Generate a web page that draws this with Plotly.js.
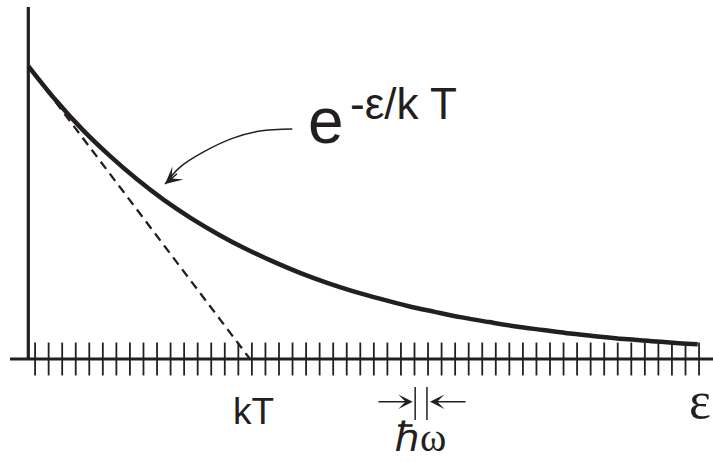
<!DOCTYPE html>
<html>
<head>
<meta charset="utf-8">
<script src="https://cdn.plot.ly/plotly-3.0.1.min.js"></script>
<style>html,body{margin:0;padding:0;background:#fff;}#chart{width:713px;height:462px;}</style>
</head>
<body>
<div id="chart"></div>
<script>
// Energy in units of the level spacing (hbar*omega); occupation relative to the value at zero.
const curveX = [0, 2, 4, 6, 8, 10, 12, 14, 16, 18, 20, 22, 24, 26, 28, 30, 32, 34, 36, 38, 40, 42, 44, 46, 48, 49.4];
const curveY = [1.00, 0.885, 0.783, 0.694, 0.614, 0.543, 0.481, 0.426, 0.377, 0.334, 0.295, 0.261, 0.231, 0.205, 0.181, 0.161, 0.142, 0.126, 0.111, 0.099, 0.087, 0.077, 0.068, 0.061, 0.054, 0.050];
const tangentX = [0, 16.36];
const tangentY = [1.0, 0.0];
const levelX = [0.5, 1.5, 2.5, 3.5, 4.5, 5.5, 6.5, 7.5, 8.5, 9.5, 10.5, 11.5, 12.5, 13.5, 14.5, 15.5, 16.5, 17.5, 18.5, 19.5, 20.5, 21.5, 22.5, 23.5, 24.5, 25.5, 26.5, 27.5, 28.5, 29.5, 30.5, 31.5, 32.5, 33.5, 34.5, 35.5, 36.5, 37.5, 38.5, 39.5, 40.5, 41.5, 42.5, 43.5, 44.5, 45.5, 46.5, 47.5, 48.5, 49.5];
const levelY = levelX.map(() => 0);
const pointerX = [19.48, 17.10, 15.11, 12.90, 11.20, 10.09];
const pointerY = [0.785, 0.778, 0.754, 0.706, 0.655, 0.597];
const labelExp = "e";
const labelSup = "-ε/k T";
const labelKT = "kT";
const labelEps = "ε";
const labelHw = "ℏω";

const ink = "#231f20";
const sans = "'Liberation Sans', Arial, Helvetica, sans-serif";
const serif = "'Liberation Serif', 'Times New Roman', serif";
const W = 713, H = 462;
const px = p => p / W;
const py = p => 1 - p / H;

const traces = [
  { x: [-1.35, 50.6], y: [0, 0], mode: "lines", line: { color: ink, width: 3.2 }, hoverinfo: "skip", cliponaxis: false },
  { x: [0, 0], y: [0, 1.201], mode: "lines", line: { color: ink, width: 3.2 }, hoverinfo: "skip", cliponaxis: false },
  { x: levelX, y: levelY, mode: "markers", marker: { symbol: "line-ns", size: 23.5, color: ink, line: { color: ink, width: 1.8 } }, hoverinfo: "skip", cliponaxis: false },
  { x: tangentX, y: tangentY, mode: "lines", line: { color: ink, width: 2.3, dash: "9px,6px" }, hoverinfo: "skip" },
  { x: curveX, y: curveY, mode: "lines", line: { color: ink, width: 4.5, shape: "spline" }, hoverinfo: "skip" },
  { x: pointerX, y: pointerY, mode: "lines", line: { color: ink, width: 1.5, shape: "spline" }, hoverinfo: "skip" },
  { x: [28.55, 28.55], y: [-0.0956, -0.208], mode: "lines", line: { color: ink, width: 1.5 }, hoverinfo: "skip" },
  { x: [29.42, 29.42], y: [-0.0956, -0.208], mode: "lines", line: { color: ink, width: 1.5 }, hoverinfo: "skip" }
];

const layout = {
  width: W, height: H,
  margin: { l: 0, r: 0, t: 0, b: 0, pad: 0 },
  paper_bgcolor: "#fff", plot_bgcolor: "#fff",
  showlegend: false,
  xaxis: { range: [-2.089, 50.53], visible: false, fixedrange: true },
  yaxis: { range: [-0.3515, 1.2253], visible: false, fixedrange: true },
  annotations: [
    { xref: "paper", yref: "paper", x: px(325.5), y: py(121), text: labelExp, showarrow: false, xanchor: "center", yanchor: "middle", font: { family: sans, size: 64, color: ink } },
    { xref: "paper", yref: "paper", x: px(348), y: py(103), text: labelSup, showarrow: false, xanchor: "left", yanchor: "middle", font: { family: sans, size: 44, color: ink } },
    { xref: "paper", yref: "paper", x: px(253.5), y: py(411), text: labelKT, showarrow: false, xanchor: "center", yanchor: "middle", font: { family: sans, size: 37, color: ink } },
    { xref: "paper", yref: "paper", x: px(713), y: py(400), text: labelEps, showarrow: false, xanchor: "right", yanchor: "middle", font: { family: serif, size: 52, color: ink } },
    { xref: "paper", yref: "paper", x: px(420), y: py(462), text: labelHw, showarrow: false, xanchor: "center", yanchor: "bottom", font: { family: serif, size: 40, color: ink } },
    { xref: "paper", yref: "paper", x: px(165), y: py(184), ax: 13.5, ay: -11.5, text: "", showarrow: true, arrowhead: 3, arrowsize: 1.9, arrowwidth: 1.5, arrowcolor: ink },
    { xref: "paper", yref: "paper", x: px(412.7), y: py(401.7), ax: -35.7, ay: 0, text: "", showarrow: true, arrowhead: 3, arrowsize: 1.6, arrowwidth: 1.5, arrowcolor: ink },
    { xref: "paper", yref: "paper", x: px(430), y: py(401.7), ax: 37, ay: 0, text: "", showarrow: true, arrowhead: 3, arrowsize: 1.6, arrowwidth: 1.5, arrowcolor: ink }
  ]
};

Plotly.newPlot("chart", traces, layout, { staticPlot: true, displayModeBar: false });
</script>
</body>
</html>
